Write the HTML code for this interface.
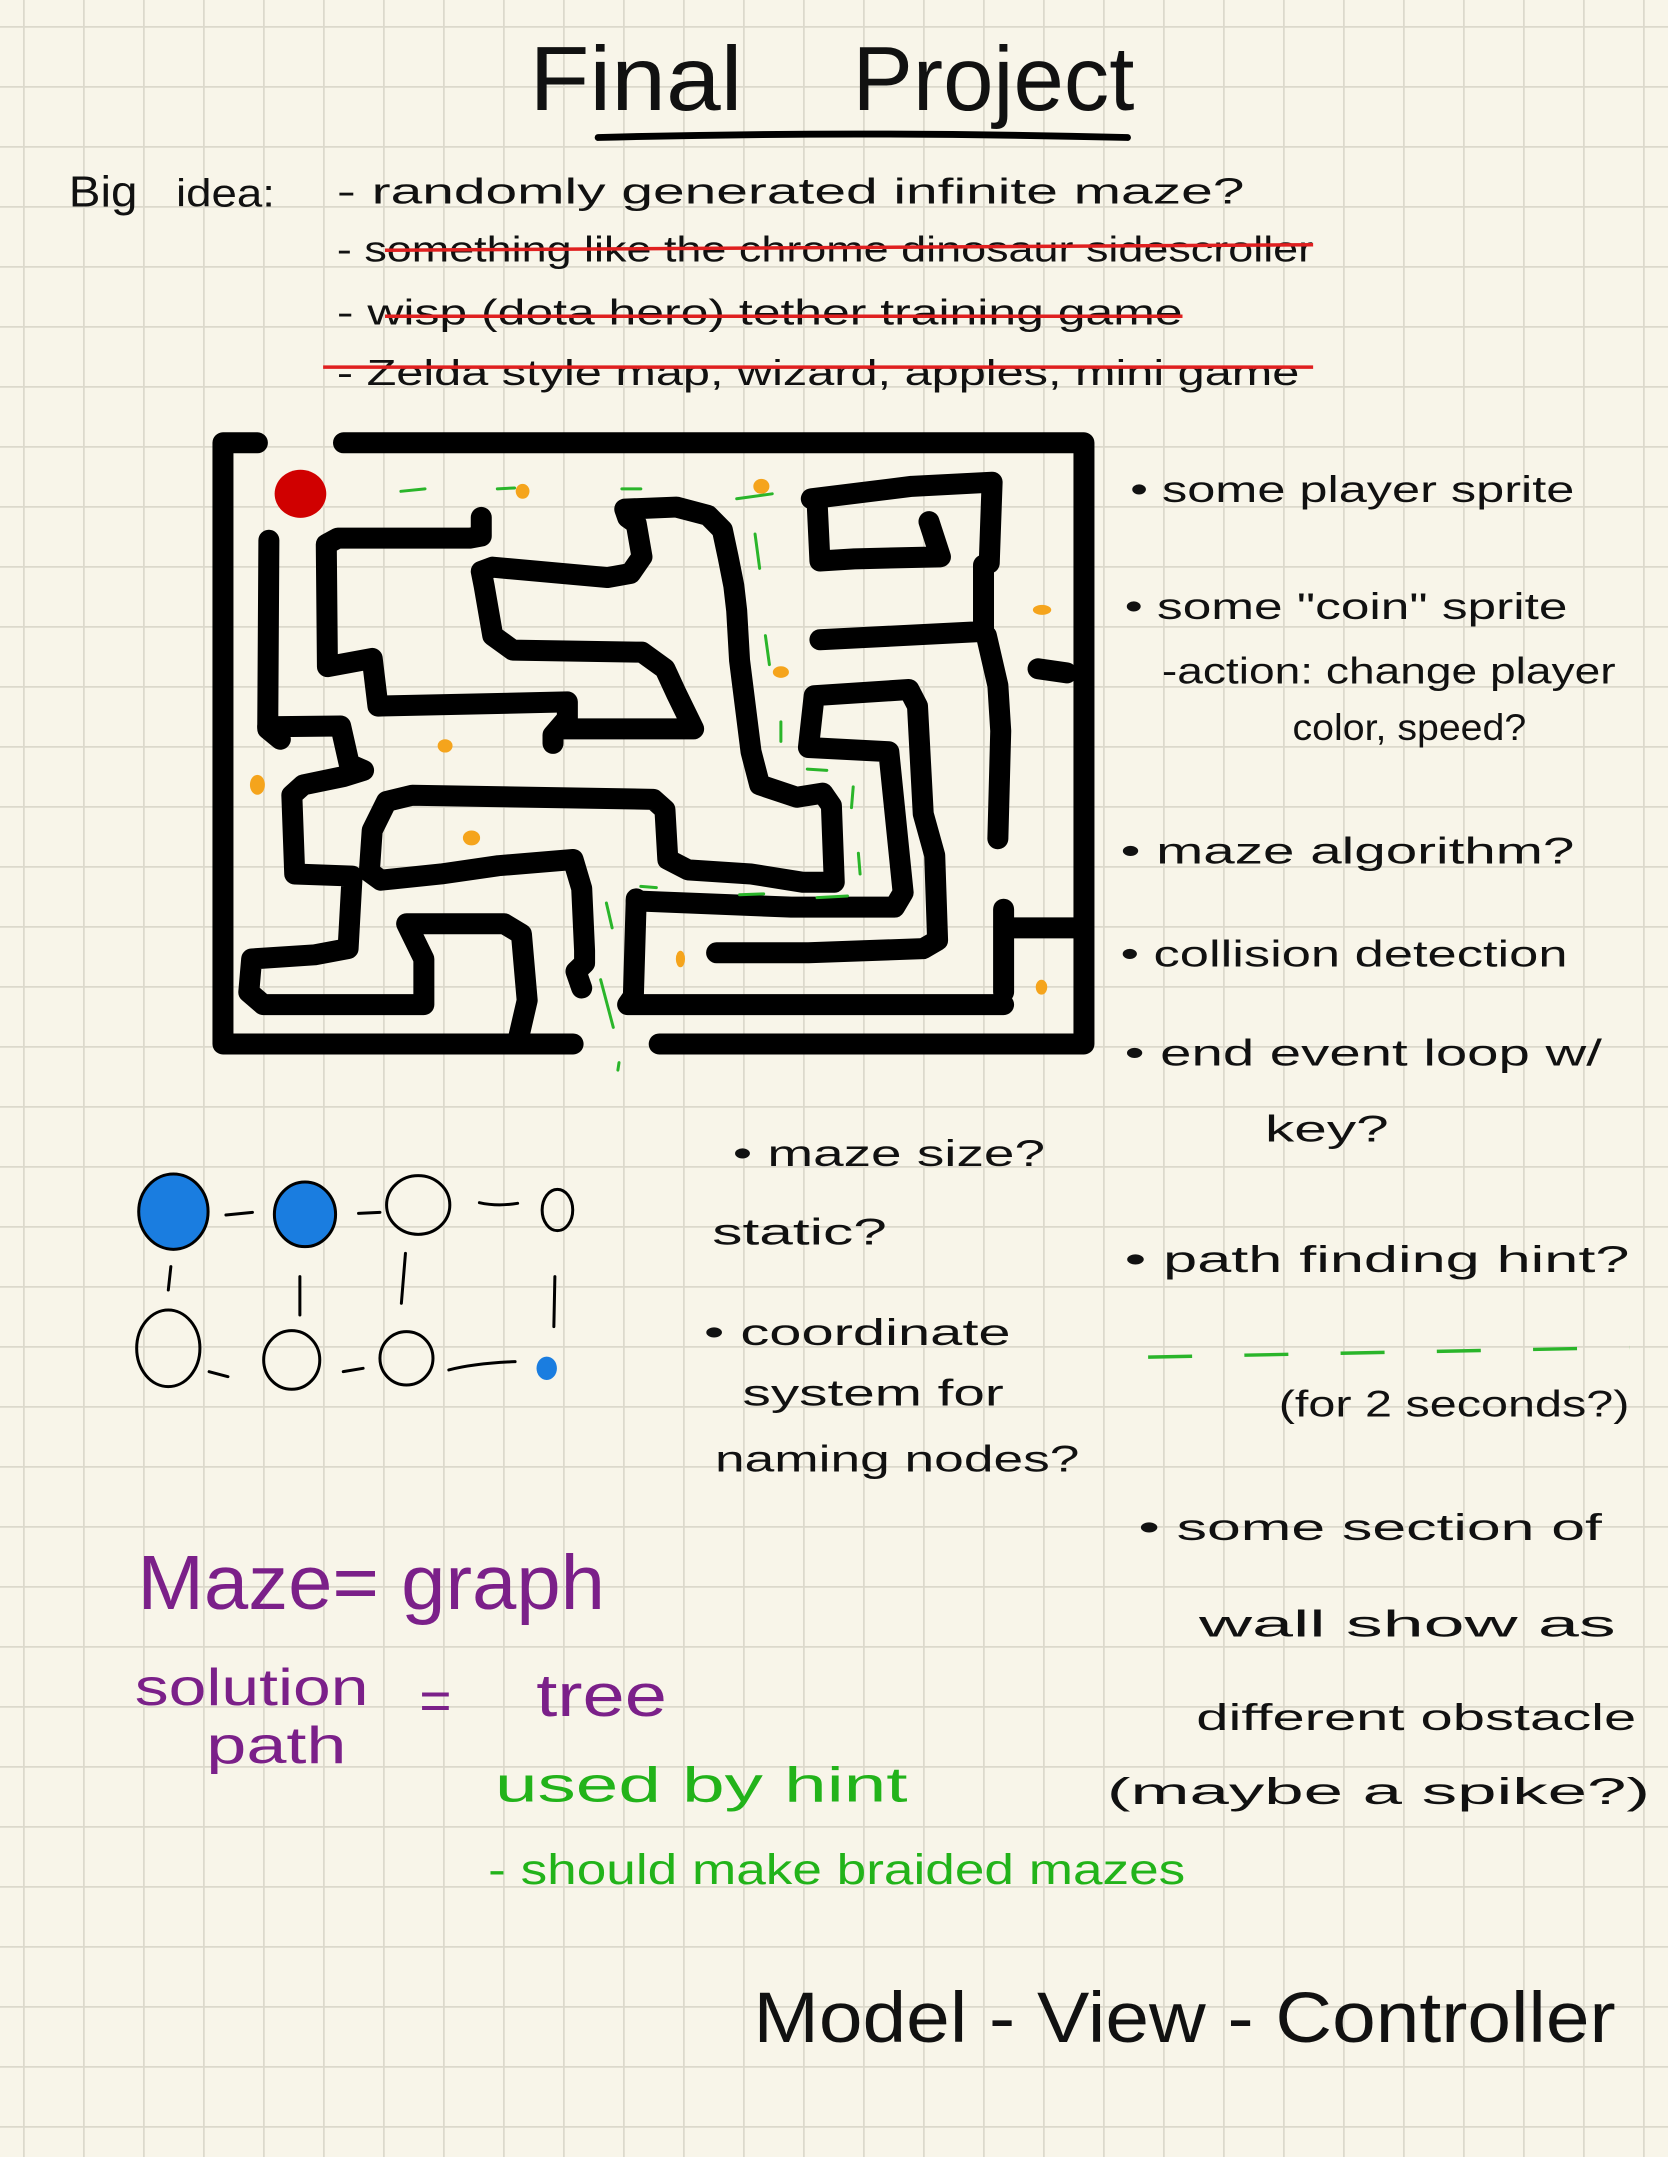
<!DOCTYPE html>
<html><head><meta charset="utf-8"><style>
html,body{margin:0;padding:0;background:#f8f5e9;}
svg{display:block;}
.t{font-family:"Liberation Sans",sans-serif;fill:#111;font-weight:normal;}
.m{fill:none;stroke:#000;stroke-width:21;stroke-linecap:round;stroke-linejoin:round;}
.g{fill:none;stroke:#2ab52a;stroke-width:3;stroke-linecap:round;}
.c{fill:#f5a41c;}
.e{fill:none;stroke:#000;stroke-width:3;stroke-linecap:round;}
</style></head><body>
<svg width="1668" height="2157" xmlns="http://www.w3.org/2000/svg">
<defs>
<pattern id="grid" x="23" y="26" width="60" height="60" patternUnits="userSpaceOnUse">
<path d="M0,0 L60,0 M0,0 L0,60" stroke="#dcd9cc" stroke-width="3.5" fill="none"/>
</pattern>
</defs>
<rect width="1668" height="2157" fill="#f8f5e9"/>
<rect width="1668" height="2157" fill="url(#grid)"/>

<g transform="translate(200,420) scale(0.574,0.4146)">
<g class="m">
<path vector-effect="non-scaling-stroke" d="M100,55 L40,55 L40,1505 L650,1505 M800,1505 L1540,1505 L1540,55 L250,55"/>
<path vector-effect="non-scaling-stroke" d="M120,290 L118,745 L140,770"/>
<path vector-effect="non-scaling-stroke" d="M118,740 L245,738 L260,830 L285,845 L250,860 L180,880 L160,905 L165,1095 L265,1100 L258,1275 L200,1290 L90,1300 L85,1380 L110,1410 L390,1410 L390,1300 L360,1215 L530,1215 L560,1240 L570,1400 L555,1490"/>
<path vector-effect="non-scaling-stroke" d="M490,235 L490,280 L470,285 L240,285 L220,300 L222,595 L300,575 L310,690 L640,680 L640,720 L615,760 L615,780"/>
<path vector-effect="non-scaling-stroke" d="M625,745 L860,745 L830,660 L810,600 L770,560 L545,555 L510,520 L495,400 L490,365 L510,355 L710,380 L750,370 L770,330 L760,250 L745,235 L740,215 L830,210 L885,230 L910,265 L920,330 L930,400 L935,460 L940,580 L960,800 L975,880 L1040,910 L1085,900 L1100,930 L1105,1115 L1050,1115 L960,1095 L850,1085 L815,1060 L810,940 L790,915 L370,905 L325,920 L300,990 L295,1090 L315,1110 L420,1095 L520,1075 L650,1060 L665,1130 L670,1280 L670,1310 L655,1330 L665,1370"/>
<path vector-effect="non-scaling-stroke" d="M760,1155 L755,1390 L745,1410 L1400,1410"/>
<path vector-effect="non-scaling-stroke" d="M760,1160 L1030,1175 L1210,1175 L1225,1140 L1200,800 L1060,790 L1070,665 L1235,650 L1250,690 L1260,950 L1280,1050 L1285,1255 L1260,1275 L1060,1285 L900,1285"/>
<path vector-effect="non-scaling-stroke" d="M1400,1180 L1400,1380 M1410,1225 L1530,1225"/>
<path vector-effect="non-scaling-stroke" d="M1075,195 L1080,340 L1140,335 L1290,330 L1270,245 M1065,190 L1240,160 L1380,150 L1375,345 L1365,350 L1365,510 L1080,530 M1370,520 L1390,640 L1395,750 L1390,1010"/>
<path vector-effect="non-scaling-stroke" d="M1460,600 L1510,610"/>
</g>
<ellipse cx="175" cy="178" rx="45" ry="58" fill="#d00000"/>
<g class="c">
<ellipse cx="562" cy="172" rx="12" ry="18"/><ellipse cx="978" cy="160" rx="14" ry="18"/>
<ellipse cx="1467" cy="458" rx="16" ry="12"/><ellipse cx="1012" cy="608" rx="14" ry="14"/>
<ellipse cx="427" cy="786" rx="13" ry="16"/><ellipse cx="100" cy="880" rx="13" ry="24"/>
<ellipse cx="473" cy="1008" rx="15" ry="18"/><ellipse cx="837" cy="1300" rx="8" ry="20"/>
<ellipse cx="1466" cy="1368" rx="10" ry="18"/>
</g>
<g class="g">
<path vector-effect="non-scaling-stroke" d="M350,172 L392,166 M518,166 L548,164 M735,166 L768,166 M935,190 L997,178 M967,275 L975,358 M985,520 L992,590 M1012,728 L1012,775 M1058,842 L1092,845 M1138,885 L1135,935 M1147,1045 L1150,1095 M768,1125 L795,1128 M940,1145 L982,1143 M1075,1152 L1128,1148 M708,1165 L718,1225 M698,1350 L720,1465 M730,1550 L728,1568"/>
</g>
</g>

<g transform="translate(0,1100) scale(0.51,0.3333)">
<ellipse cx="340" cy="335" rx="68" ry="113" fill="#1a7de0" stroke="#000" stroke-width="3" vector-effect="non-scaling-stroke"/>
<ellipse cx="598" cy="343" rx="60" ry="97" fill="#1a7de0" stroke="#000" stroke-width="3" vector-effect="non-scaling-stroke"/>
<ellipse cx="820" cy="315" rx="62" ry="88" class="e" vector-effect="non-scaling-stroke"/>
<ellipse cx="1093" cy="330" rx="30" ry="62" class="e" vector-effect="non-scaling-stroke"/>
<ellipse cx="330" cy="745" rx="62" ry="115" class="e" vector-effect="non-scaling-stroke"/>
<ellipse cx="572" cy="780" rx="55" ry="88" class="e" vector-effect="non-scaling-stroke"/>
<ellipse cx="797" cy="775" rx="52" ry="80" class="e" vector-effect="non-scaling-stroke"/>
<ellipse cx="1072" cy="805" rx="20" ry="35" fill="#1a7de0"/>
<path class="e" vector-effect="non-scaling-stroke" d="M443,345 L495,337 M703,340 L745,337 M940,308 Q975,320 1015,310 M335,500 L330,570 M588,530 L588,645 M795,460 L787,610 M1088,530 L1086,680 M410,815 L447,830 M673,815 L712,805 M880,810 Q930,790 1010,785"/>
</g>

<g transform="scale(1.375)">
<text class="t" x="385" y="80" font-size="66" textLength="155" lengthAdjust="spacingAndGlyphs">Final</text>
<text class="t" x="620" y="80" font-size="66" textLength="205" lengthAdjust="spacingAndGlyphs">Project</text>
<path d="M435,100 Q620,95 820,100" stroke="#000" stroke-width="5" fill="none" stroke-linecap="round"/>

<text class="t" x="50" y="150" font-size="32" textLength="50" lengthAdjust="spacingAndGlyphs">Big</text>
<text class="t" x="128" y="150" font-size="28" textLength="72" lengthAdjust="spacingAndGlyphs">idea:</text>
<g class="t" font-size="26">
<text x="245" y="148" textLength="660" lengthAdjust="spacingAndGlyphs">-  randomly   generated  infinite maze?</text>
<text x="245" y="190" textLength="710" lengthAdjust="spacingAndGlyphs">-  something  like the chrome dinosaur sidescroller</text>
<text x="245" y="236" textLength="615" lengthAdjust="spacingAndGlyphs">-  wisp (dota hero) tether training game</text>
<text x="245" y="280" textLength="700" lengthAdjust="spacingAndGlyphs">-  Zelda style  map, wizard, apples, mini game</text>
</g>
<path d="M280,182 L955,178 M280,230 L860,230 M235,267 L955,267" stroke="#e02020" stroke-width="2.5" fill="none"/>

<g class="t" font-size="27">
<text x="822" y="365" textLength="323" lengthAdjust="spacingAndGlyphs">• some player sprite</text>
<text x="818" y="450" textLength="322" lengthAdjust="spacingAndGlyphs">• some "coin" sprite</text>
<text x="845" y="497" textLength="330" lengthAdjust="spacingAndGlyphs">-action: change player</text>
<text x="940" y="538" textLength="170" lengthAdjust="spacingAndGlyphs">color, speed?</text>
<text x="815" y="628" textLength="330" lengthAdjust="spacingAndGlyphs">• maze algorithm?</text>
<text x="815" y="703" textLength="325" lengthAdjust="spacingAndGlyphs">• collision  detection</text>
<text x="818" y="775" textLength="347" lengthAdjust="spacingAndGlyphs">• end  event  loop w/</text>
<text x="920" y="830" textLength="90" lengthAdjust="spacingAndGlyphs">key?</text>
<text x="818" y="925" textLength="367" lengthAdjust="spacingAndGlyphs">• path finding  hint?</text>
<text x="930" y="1030" textLength="255" lengthAdjust="spacingAndGlyphs">(for  2 seconds?)</text>
<text x="828" y="1120" textLength="337" lengthAdjust="spacingAndGlyphs">• some  section  of</text>
<text x="872" y="1190" textLength="303" lengthAdjust="spacingAndGlyphs">wall  show  as</text>
<text x="870" y="1258" textLength="320" lengthAdjust="spacingAndGlyphs">different  obstacle</text>
<text x="805" y="1312" textLength="395" lengthAdjust="spacingAndGlyphs">(maybe  a  spike?)</text>
<text x="533" y="848" textLength="227" lengthAdjust="spacingAndGlyphs">• maze size?</text>
<text x="518" y="905" textLength="127" lengthAdjust="spacingAndGlyphs">static?</text>
<text x="512" y="978" textLength="223" lengthAdjust="spacingAndGlyphs">• coordinate</text>
<text x="540" y="1022" textLength="190" lengthAdjust="spacingAndGlyphs">system  for</text>
<text x="520" y="1070" textLength="265" lengthAdjust="spacingAndGlyphs">naming  nodes?</text>
</g>
<path d="M835,987 L1185,980" stroke="#2ab52a" stroke-width="2.5" stroke-dasharray="32,38" fill="none"/>

<g class="t" style="fill:#7b2089" font-weight="bold">
<text x="100" y="1170" font-size="56" textLength="340" lengthAdjust="spacingAndGlyphs">Maze= graph</text>
<text x="98" y="1240" font-size="38" textLength="170" lengthAdjust="spacingAndGlyphs">solution</text>
<text x="150" y="1282" font-size="38" textLength="102" lengthAdjust="spacingAndGlyphs">path</text>
<text x="305" y="1250" font-size="40">=</text>
<text x="390" y="1248" font-size="44" textLength="95" lengthAdjust="spacingAndGlyphs">tree</text>
</g>
<g class="t" style="fill:#22b31a" font-weight="bold">
<text x="360" y="1310" font-size="36" textLength="300" lengthAdjust="spacingAndGlyphs">used by hint</text>
<text x="355" y="1370" font-size="31" textLength="507" lengthAdjust="spacingAndGlyphs">- should make braided mazes</text>
</g>
<text class="t" x="548" y="1485" font-size="52" textLength="627" lengthAdjust="spacingAndGlyphs">Model - View - Controller</text>
</g>
</svg>
</body></html>
